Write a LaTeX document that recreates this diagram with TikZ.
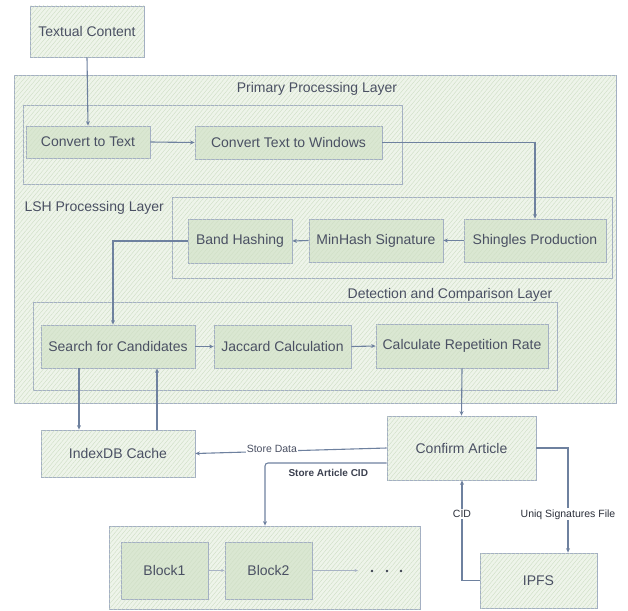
\documentclass[tikz,border=0pt]{standalone}
\usepackage{fontspec}
\setmainfont{Liberation Sans}
\usetikzlibrary{arrows.meta,patterns.meta,calc}
\definecolor{bordc}{HTML}{A3AFC3}
\definecolor{linec}{HTML}{6E819F}
\definecolor{panelfill}{HTML}{EEF4EA}
\definecolor{nodefill}{HTML}{DAE7D2}
\definecolor{hatchc}{HTML}{CBDCC1}
\definecolor{txtc}{HTML}{4A5063}
\tikzset{
  panel/.style={draw=bordc, line width=0.8pt, fill=panelfill,
    postaction={pattern={Lines[angle=50,distance=3.2pt,line width=0.35pt]}, pattern color=hatchc}},
  inner/.style={draw=bordc, line width=0.8pt, fill=nodefill,
    postaction={pattern={Lines[angle=50,distance=3.2pt,line width=0.35pt]}, pattern color=hatchc!80!nodefill},
    text=txtc, font=\fontsize{14}{16}\selectfont, inner sep=0pt},
  plainbox/.style={panel, text=txtc, font=\fontsize{14}{16}\selectfont, inner sep=0pt},
  layer/.style={panel, inner sep=0pt},
  arr/.style={draw=linec, line width=1.1pt, -{Stealth[length=4.5pt,width=4pt]}},
  thinarr/.style={draw=linec!60!white, line width=0.6pt, -{Stealth[length=3.5pt,width=3pt]}},
  lbl/.style={text=txtc, font=\fontsize{14}{16}\selectfont},
  elbl/.style={text=txtc, font=\fontsize{10.5}{12}\selectfont, fill=white, inner sep=1pt},
  delbl/.style={elbl, text=txtc!60!black},
  bl/.style={text=txtc!80!black, font=\bfseries\fontsize{10}{12}\selectfont},
}
\begin{document}
\begin{tikzpicture}[x=1pt,y=-1pt]
\useasboundingbox (0,0) rectangle (628,610);
% outer panel
\node[layer, minimum width=602pt, minimum height=328pt] (outer) at (315,239) {};
% layer boxes
\node[layer, minimum width=379pt, minimum height=79pt] (prim) at (212.5,144.5) {};
\node[layer, minimum width=440pt, minimum height=81pt] (lsh) at (392,237.5) {};
\node[layer, minimum width=524pt, minimum height=88pt] (det) at (295,346) {};
\node[layer, minimum width=311pt, minimum height=83pt] (bp) at (264.5,567.5) {};
% layer labels
\node[lbl] (lprim) at (317,89) {Primary Processing Layer};
\node[lbl, anchor=west] (llsh) at (21,208) {LSH Processing Layer};
\node[lbl] (ldet) at (450,295) {Detection and Comparison Layer};
% nodes
\node[plainbox, minimum width=114pt, minimum height=51pt] (tc) at (87,31.5) {Textual Content};
\node[inner, minimum width=124pt, minimum height=32pt] (ct) at (88,142) {Convert to Text};
\node[inner, minimum width=187pt, minimum height=33pt] (ctw) at (288.5,142.5) {Convert Text to Windows};
\node[inner, minimum width=104pt, minimum height=44pt] (bh) at (240,241) {Band Hashing};
\node[inner, minimum width=134pt, minimum height=43pt] (mh) at (376,240.5) {MinHash Signature};
\node[inner, minimum width=142pt, minimum height=43pt] (sp) at (535,240.5) {Shingles Production};
\node[inner, minimum width=154pt, minimum height=43pt] (sc) at (118,346.5) {Search for Candidates};
\node[inner, minimum width=137pt, minimum height=43pt] (jc) at (282.5,346.5) {Jaccard Calculation};
\node[inner, minimum width=172pt, minimum height=44pt] (crr) at (462,346) {Calculate Repetition Rate};
\node[plainbox, minimum width=154pt, minimum height=47pt] (idx) at (118,453.5) {IndexDB Cache};
\node[plainbox, minimum width=149pt, minimum height=64pt] (ca) at (461.5,448) {Confirm Article};
\node[inner, minimum width=87pt, minimum height=57pt] (b1) at (164.5,570.5) {Block1};
\node[inner, minimum width=87pt, minimum height=57pt] (b2) at (268.5,570.5) {Block2};
\node[plainbox, minimum width=117pt, minimum height=55pt] (ipfs) at (538.5,580.5) {IPFS};
\coordinate (dotsend) at (358,570.5);
\foreach \x/\n in {372/d1,387/d2,401/d3} \fill[txtc!80!black] (\x,571) circle (1.3pt) coordinate (\n);
% connectors
\draw[arr] (tc.south) -- (ct.north);
\draw[arr] (ct.east) -- (ctw.west);
\draw[arr] (ctw.east) -| (sp.north);
\draw[arr] (sp.west) -- (mh.east);
\draw[arr] (mh.west) -- (bh.east);
\draw[arr] (bh.west) -| ([xshift=-5pt]sc.north);
\draw[arr] (sc.east) -- (jc.west);
\draw[arr] (jc.east) -- (crr.west);
\draw[arr] ([xshift=-39pt]sc.south) -- ([xshift=-39pt]idx.north);
\draw[arr] ([xshift=39pt]idx.north) -- ([xshift=39pt]sc.south);
\draw[arr] (crr.south) -- (ca.north);
\draw[arr] (ca.west) -- node[elbl, pos=0.6, yshift=2pt] {Store Data} (idx.east);
\draw[arr, rounded corners=3pt] ([yshift=-15pt]ca.west) -| ([xshift=0.5pt]bp.north);
\node[bl, anchor=west] (lsac) at (285,473) {Store Article CID};
\draw[arr] (ca.east) -| node[delbl, pos=0.817] {Uniq Signatures File} ([xshift=29.5pt]ipfs.north);
\draw[arr] (ipfs.west) -| node[delbl, pos=0.833] {CID} ([xshift=0.5pt]ca.south);
\draw[thinarr] (b1.east) -- (b2.west);
\draw[thinarr] (b2.east) -- (dotsend);
\end{tikzpicture}
\end{document}
